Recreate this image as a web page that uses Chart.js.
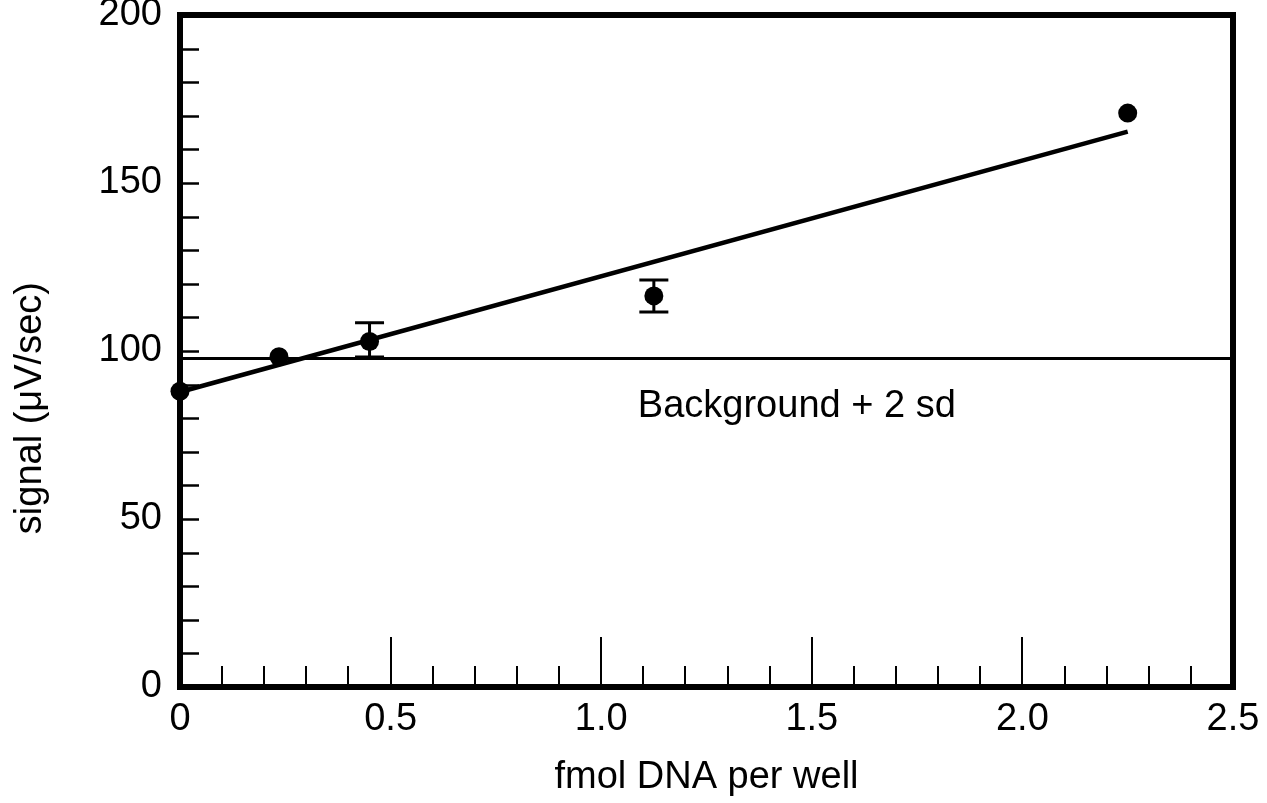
<!DOCTYPE html>
<html>
<head>
<meta charset="utf-8">
<script src="https://cdn.jsdelivr.net/npm/chart.js@4/dist/chart.umd.min.js"></script>
<style>
  html, body { margin: 0; padding: 0; background: #fff; }
  #wrap { width: 1267px; height: 803px; }
</style>
</head>
<body>
<div id="wrap"><canvas id="grafico" width="1267" height="803"></canvas></div>
<script>
// datos
const xValues = [0, 0.235, 0.45, 1.125, 2.25];
const yValues = [88, 98.3, 102.8, 116.4, 170.8];
const errLow = [null, null, 98.2, 111.6, null];
const errHigh = [null, null, 108.4, 121.1, null];
const fitX = [0, 2.25];
const fitY = [87.8, 165.3];
const bgX = [0, 2.5];
const bgY = [97.8, 97.8];
const bgLabel = 'Background + 2 sd';
const bgLabelAt = [1.087, 83.6];
const xTickLabels = ['0', '0.5', '1.0', '1.5', '2.0', '2.5'];
const yTickLabels = ['0', '50', '100', '150', '200'];
const yTitle = 'signal (μV/sec)';

const FONT = '"Liberation Sans", Arial, Helvetica, sans-serif';

// marco, ticks hacia adentro, barras de error y textos
const extras = {
    id: 'extras',
    afterDatasetsDraw(chart) {
        const ctx = chart.ctx;
        const xs = chart.scales.x, ys = chart.scales.y;
        const a = chart.chartArea;
        ctx.save();
        ctx.strokeStyle = '#000';
        // barras de error
        ctx.lineWidth = 3;
        for (let i = 0; i < xValues.length; i++) {
            if (errLow[i] == null) continue;
            const px = xs.getPixelForValue(xValues[i]);
            const lo = ys.getPixelForValue(errLow[i]);
            const hi = ys.getPixelForValue(errHigh[i]);
            ctx.beginPath();
            ctx.moveTo(px, lo); ctx.lineTo(px, hi);
            ctx.moveTo(px - 14.5, lo); ctx.lineTo(px + 14.5, lo);
            ctx.moveTo(px - 14.5, hi); ctx.lineTo(px + 14.5, hi);
            ctx.stroke();
        }
        // ticks eje y
        ctx.lineWidth = 2.5;
        ys.ticks.forEach(t => {
            const py = Math.round(ys.getPixelForValue(t.value)) + 0.5;
            ctx.beginPath();
            ctx.moveTo(a.left, py); ctx.lineTo(a.left + 19, py);
            ctx.stroke();
        });
        // ticks eje x
        ctx.lineWidth = 2;
        xs.ticks.forEach(t => {
            const px = Math.round(xs.getPixelForValue(t.value));
            const major = Math.abs(t.value * 2 - Math.round(t.value * 2)) < 1e-6;
            ctx.beginPath();
            ctx.moveTo(px, a.bottom); ctx.lineTo(px, a.bottom - (major ? 50 : 21));
            ctx.stroke();
        });
        // marco
        ctx.lineWidth = 6;
        ctx.strokeRect(a.left, a.top, a.right - a.left, a.bottom - a.top);
        // textos
        ctx.fillStyle = '#000';
        ctx.font = '38px ' + FONT;
        ctx.textAlign = 'left';
        ctx.textBaseline = 'middle';
        ctx.fillText(bgLabel, xs.getPixelForValue(bgLabelAt[0]), ys.getPixelForValue(bgLabelAt[1]));
        // titulo eje y (algo por debajo del centro, como en el original)
        ctx.translate(31, ys.getPixelForValue(83));
        ctx.rotate(-Math.PI / 2);
        ctx.textAlign = 'center';
        ctx.fillText(yTitle, 0, 0);
        ctx.restore();
    }
};

const ctx = document.getElementById('grafico').getContext('2d');
new Chart(ctx, {
    type: 'scatter',
    data: {
        datasets: [
            {
                label: 'datos',
                data: xValues.map((x, i) => ({ x: x, y: yValues[i] })),
                pointRadius: 9.5,
                pointBackgroundColor: '#000',
                pointBorderColor: '#000',
                pointBorderWidth: 0,
                showLine: false,
                clip: false
            },
            {
                label: 'ajuste',
                data: fitX.map((x, i) => ({ x: x, y: fitY[i] })),
                showLine: true,
                borderColor: '#000',
                borderWidth: 4.5,
                pointRadius: 0,
                clip: false
            },
            {
                label: 'fondo',
                data: bgX.map((x, i) => ({ x: x, y: bgY[i] })),
                showLine: true,
                borderColor: '#000',
                borderWidth: 3,
                pointRadius: 0
            }
        ]
    },
    options: {
        responsive: false,
        animation: false,
        layout: { padding: { left: 0, top: 15, right: 34, bottom: 0 } },
        plugins: { legend: { display: false }, tooltip: { enabled: false } },
        scales: {
            x: {
                type: 'linear',
                min: 0, max: 2.5,
                grid: { display: false, drawTicks: false },
                border: { display: false },
                ticks: {
                    stepSize: 0.1,
                    autoSkip: false,
                    maxRotation: 0,
                    padding: 10,
                    color: '#000',
                    font: { family: FONT, size: 38 },
                    callback: v => {
                        const k = v * 2;
                        return Math.abs(k - Math.round(k)) < 1e-6 ? xTickLabels[Math.round(k)] : '';
                    }
                },
                title: {
                    display: true,
                    text: 'fmol DNA per well',
                    color: '#000',
                    font: { family: FONT, size: 38 },
                    padding: { top: 0, bottom: 3 }
                },
                afterFit: s => { s.height = 116; s.paddingLeft = 0; s.paddingRight = 0; }
            },
            y: {
                type: 'linear',
                min: 0, max: 200,
                grid: { display: false, drawTicks: false },
                border: { display: false },
                ticks: {
                    stepSize: 10,
                    autoSkip: false,
                    padding: 18,
                    color: '#000',
                    font: { family: FONT, size: 38 },
                    callback: v => (v % 50 === 0 ? yTickLabels[v / 50] : '')
                },
                title: { display: false },
                afterFit: s => { s.width = 180; s.paddingTop = 0; s.paddingBottom = 0; }
            }
        }
    },
    plugins: [extras]
});
</script>
</body>
</html>
